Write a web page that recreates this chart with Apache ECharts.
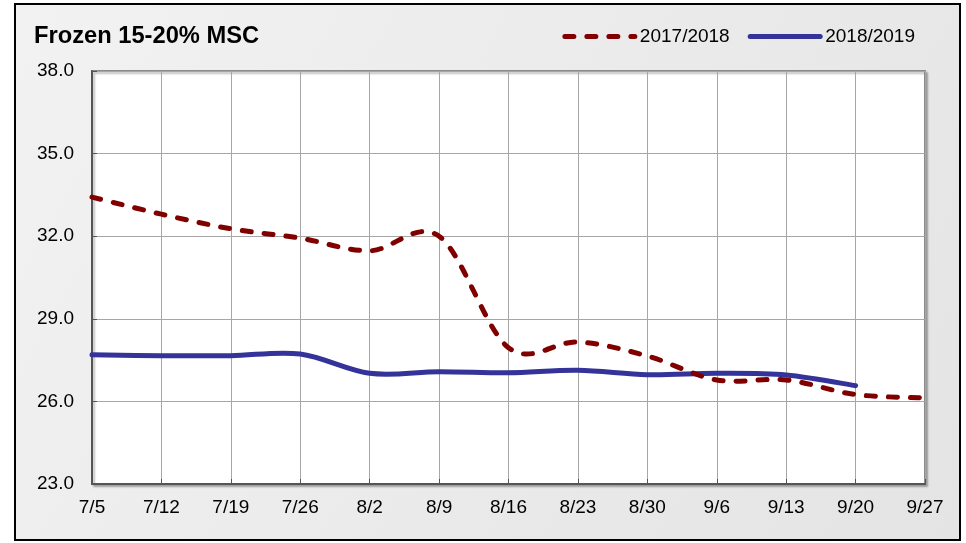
<!DOCTYPE html>
<html>
<head>
<meta charset="utf-8">
<script src="https://cdn.jsdelivr.net/npm/echarts@6/dist/echarts.min.js"></script>
<style>
  html, body { margin: 0; padding: 0; background: #fff; }
  #chart { width: 966px; height: 543px; }
</style>
</head>
<body>
<div id="chart"></div>
<script>
const categories = ['7/5', '7/12', '7/19', '7/26', '8/2', '8/9', '8/16', '8/23', '8/30', '9/6', '9/13', '9/20', '9/27']
const season1718 = [33.42, 32.8, 32.27, 31.93, 31.47, 32.0, 27.95, 28.16, 27.65, 26.78, 26.78, 26.25, 26.13]
const season1819 = [27.69, 27.66, 27.66, 27.72, 27.02, 27.08, 27.04, 27.13, 26.97, 27.02, 26.96, 26.57]
const yTicks = { min: 23, max: 38, interval: 3 }

const red = '#800000'
const blue = '#333399'
const redDash = [9, 13]

// excel-like smoothing (catmull-rom through every point), using the chart's own coords
function curvePath(api, values) {
  const pts = values.map((v, i) => api.coord([i, v]))
  let d = 'M' + pts[0][0] + ',' + pts[0][1]
  for (let i = 0; i < pts.length - 1; i++) {
    const p0 = pts[i - 1] || pts[i]
    const p1 = pts[i]
    const p2 = pts[i + 1]
    const p3 = pts[i + 2] || p2
    const c1x = p1[0] + (p2[0] - p0[0]) / 6
    const c1y = p1[1] + (p2[1] - p0[1]) / 6
    const c2x = p2[0] - (p3[0] - p1[0]) / 6
    const c2y = p2[1] - (p3[1] - p1[1]) / 6
    d += ' C' + c1x + ',' + c1y + ' ' + c2x + ',' + c2y + ' ' + p2[0] + ',' + p2[1]
  }
  return d
}

function curveSeries(name, values, style) {
  return {
    name: name,
    type: 'custom',
    data: values.map((v, i) => [i, v]),
    silent: true,
    renderItem: (params, api) => {
      if (params.dataIndex !== 0) return null
      return {
        type: 'path',
        shape: { pathData: curvePath(api, values) },
        style: Object.assign({ fill: 'none', lineWidth: 5, lineCap: 'round', lineJoin: 'round' }, style)
      }
    }
  }
}

const chart = echarts.init(document.getElementById('chart'))

chart.setOption({
  animation: false,
  textStyle: { fontFamily: 'Liberation Sans, Arial, sans-serif' },
  graphic: [{
    type: 'rect',
    z: -10,
    shape: { x: 15, y: 4, width: 945, height: 536 },
    style: {
      fill: new echarts.graphic.LinearGradient(0, 0, 1, 1, [
        { offset: 0, color: '#f2f2f2' },
        { offset: 1, color: '#e4e4e4' }
      ]),
      stroke: '#000',
      lineWidth: 2
    }
  }],
  title: {
    text: 'Frozen 15-20% MSC',
    left: 29, top: 19,
    textStyle: { fontSize: 23.7, fontWeight: 'bold', color: '#000' }
  },
  legend: {
    right: 46, top: 22,
    itemWidth: 70, itemHeight: 10, itemGap: 18,
    itemStyle: { opacity: 0 },
    lineStyle: { width: 5, opacity: 1, cap: 'round' },
    textStyle: { fontSize: 19, color: '#000' },
    data: [
      { name: '2017/2018', lineStyle: { color: red, type: redDash } },
      { name: '2018/2019', lineStyle: { color: blue, type: 'solid' } }
    ]
  },
  grid: {
    left: 92, right: 41, top: 71, bottom: 59,
    show: true, backgroundColor: '#fff', borderColor: '#8a8a8a', borderWidth: 2,
    shadowColor: 'rgba(0,0,0,0.25)', shadowOffsetX: 2, shadowOffsetY: 2, shadowBlur: 2
  },
  xAxis: {
    type: 'category',
    data: categories,
    boundaryGap: false,
    axisLine: { lineStyle: { color: '#555', width: 2 } },
    axisTick: { inside: true, length: 5, lineStyle: { color: '#555' } },
    axisLabel: { fontSize: 19, color: '#000', margin: 14 },
    splitLine: { show: true, lineStyle: { color: '#a6a6a6', width: 1 } }
  },
  yAxis: {
    type: 'value',
    min: yTicks.min, max: yTicks.max, interval: yTicks.interval,
    axisLine: { show: true, lineStyle: { color: '#555', width: 2 } },
    axisTick: { show: true, inside: true, length: 5, lineStyle: { color: '#555' } },
    axisLabel: { fontSize: 19, color: '#000', margin: 18, formatter: v => v.toFixed(1) },
    splitLine: { show: true, lineStyle: { color: '#a6a6a6', width: 1 } }
  },
  series: [
    // line series carry the legend; the visible curves are the custom ones below
    {
      name: '2017/2018', type: 'line', data: season1718, symbol: 'none', silent: true,
      itemStyle: { color: red }, lineStyle: { color: red, width: 5, opacity: 0 }
    },
    {
      name: '2018/2019', type: 'line', data: season1819, symbol: 'none', silent: true,
      itemStyle: { color: blue }, lineStyle: { color: blue, width: 5, opacity: 0 }
    },
    Object.assign(curveSeries('curve2019', season1819, { stroke: blue }), { z: 2 }),
    Object.assign(curveSeries('curve2018', season1718, { stroke: red, lineDash: redDash }), { z: 3 })
  ]
})
</script>
</body>
</html>
